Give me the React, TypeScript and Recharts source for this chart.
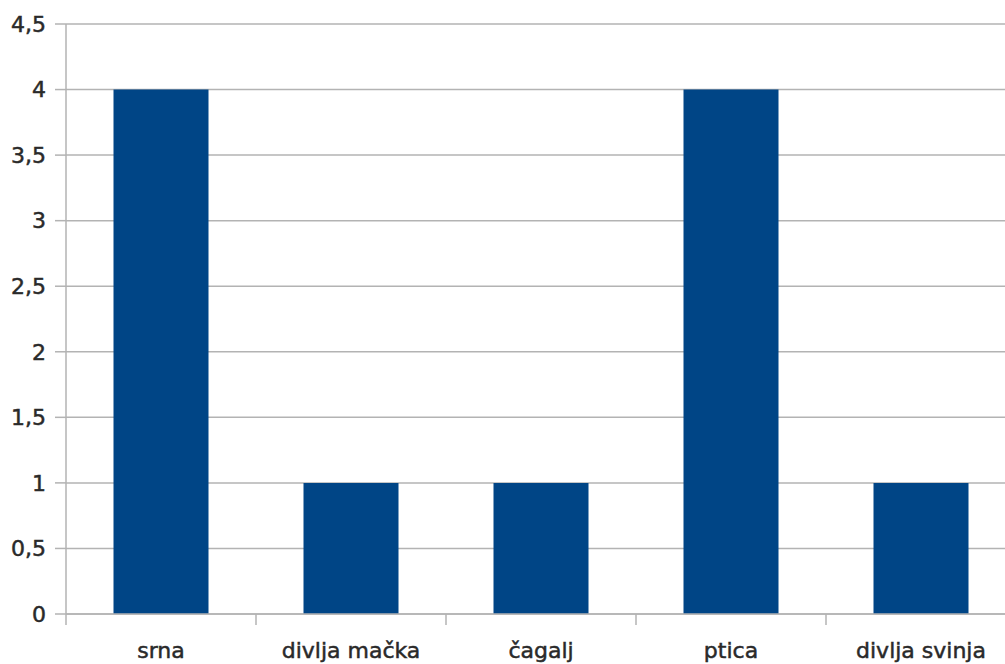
import React from 'react';
import { BarChart, Bar, XAxis, YAxis, CartesianGrid } from 'recharts';

const categories = ['srna', 'divlja mačka', 'čagalj', 'ptica', 'divlja svinja'];
const values = [4, 1, 1, 4, 1];
const yTicks = [0, 0.5, 1, 1.5, 2, 2.5, 3, 3.5, 4, 4.5];

const data = categories.map((name, i) => ({ name, value: values[i] }));

const GRID = '#b3b3b3';
const TEXT = '#2a2a2a';
const FONT = '"DejaVu Sans", sans-serif';
const tickStyle = { fill: TEXT, fontSize: 22, fontFamily: FONT, stroke: TEXT, strokeWidth: 0.5 };

const TICK_LEN = 11;
const LABEL_GAP = 17;

const CategoryTick = (props: any) => {
  const { x, y, payload, width, visibleTicksCount } = props;
  const band = width / visibleTicksCount;
  const axisY = y - TICK_LEN - LABEL_GAP;
  const bx = x - band / 2;
  return (
    <g>
      <line x1={bx} x2={bx} y1={axisY} y2={axisY + TICK_LEN} stroke={GRID} strokeWidth={1.5} />
      <text x={x} y={y} dy="0.71em" textAnchor="middle" {...tickStyle}>
        {payload.value}
      </text>
    </g>
  );
};

export default function App() {
  return (
    <div style={{ position: 'absolute', left: 0, top: 0, width: 1005, height: 664, overflow: 'hidden', background: '#fff' }}>
      <BarChart
        width={1030}
        height={664}
        data={data}
        margin={{ top: 24, right: 14, left: 0, bottom: 0 }}
        barCategoryGap="25%"
      >
        <CartesianGrid vertical={false} stroke={GRID} strokeWidth={1.5} />
        <XAxis
          dataKey="name"
          height={50}
          tickSize={TICK_LEN}
          tickMargin={LABEL_GAP}
          axisLine={{ stroke: GRID, strokeWidth: 1.5 }}
          tickLine={false}
          tick={<CategoryTick />}
          interval={0}
        />
        <YAxis
          width={66}
          domain={[0, 4.5]}
          ticks={yTicks}
          tickSize={11}
          tickMargin={9}
          axisLine={{ stroke: GRID, strokeWidth: 1.5 }}
          tickLine={{ stroke: GRID, strokeWidth: 1.5 }}
          tick={tickStyle}
          tickFormatter={(v: number) => String(v).replace('.', ',')}
        />
        <Bar dataKey="value" fill="#004586" isAnimationActive={false} />
      </BarChart>
    </div>
  );
}
